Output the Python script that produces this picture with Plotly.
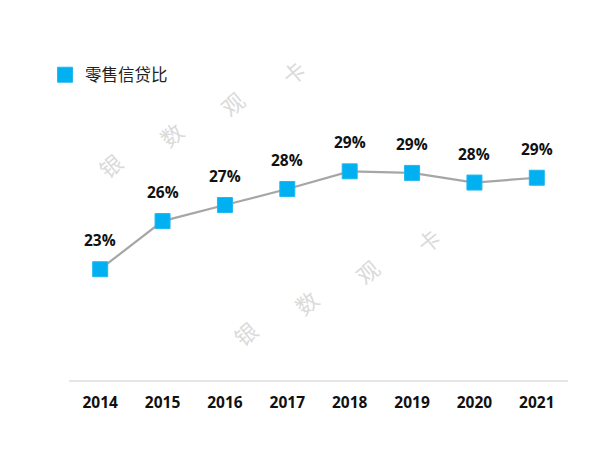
import plotly.graph_objects as go

years = ["2014", "2015", "2016", "2017", "2018", "2019", "2020", "2021"]
ratio = [22.9, 25.9, 26.9, 27.9, 29.0, 28.9, 28.3, 28.6]
labels = ["23%", "26%", "27%", "28%", "29%", "29%", "28%", "29%"]
series_name = "零售信贷比"
watermark = ["银", "数", "观", "卡"]

fig = go.Figure()
fig.add_trace(go.Scatter(
    x=years, y=ratio, mode="lines",
    line=dict(color="#A6A6A6", width=2.2),
    showlegend=False, hoverinfo="skip",
))
fig.add_trace(go.Scatter(
    x=years, y=ratio, mode="markers", name=series_name,
    marker=dict(symbol="square", size=15, color="#00B0F0",
                line=dict(color="#1FB8F2", width=1)),
))

for i, (y, t) in enumerate(zip(ratio, labels)):
    fig.add_annotation(x=i, y=y, text=t, showarrow=False, yshift=29,
                       font=dict(family="Open Sans", size=15.5, color="#111111", weight="bold"))

# watermark
for base_x, base_y in [(110, 165), (245, 333)]:
    for i, ch in enumerate(watermark):
        px = base_x + i * 61
        py = base_y - i * 31
        fig.add_annotation(xref="paper", yref="paper",
                           x=(px - 69) / 499, y=(380 - py) / 305,
                           xanchor="center", yanchor="middle",
                           text=ch, showarrow=False, textangle=-40,
                           font=dict(family="Noto Sans CJK SC", size=22, color="#DADADA"))

fig.update_layout(
    width=600, height=450,
    margin=dict(l=69, r=32, t=75, b=70),
    plot_bgcolor="white", paper_bgcolor="white",
    showlegend=True,
    legend=dict(x=-0.048, y=1.0, xanchor="left", yanchor="middle",
                font=dict(family="Noto Sans CJK SC", size=16.5, color="#222222"),
                itemwidth=30, bgcolor="rgba(0,0,0,0)"),
    xaxis=dict(type="category", showgrid=False, showline=True,
               range=[-0.5, len(years) - 0.5],
               linecolor="#E6E6E6", linewidth=2, ticks="", ticklabelstandoff=7,
               tickfont=dict(family="Open Sans", size=15.5, color="#111111", weight="bold"),
               fixedrange=True),
    yaxis=dict(range=[16, 35], visible=False, showgrid=False, zeroline=False),
)

fig.write_html("out.html")
